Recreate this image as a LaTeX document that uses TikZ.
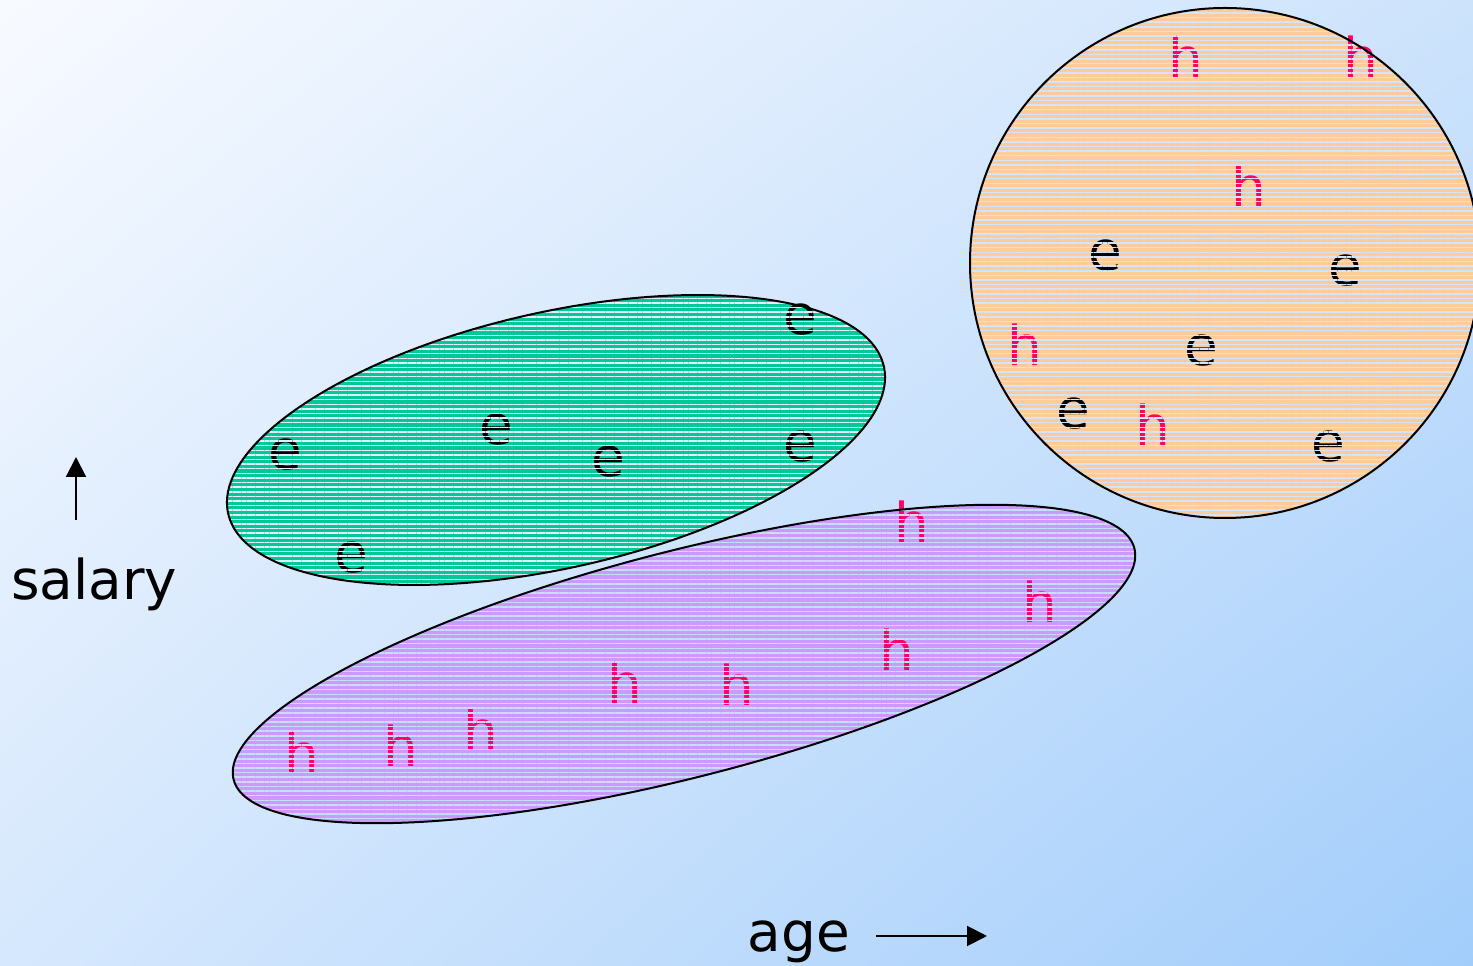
\documentclass[tikz,border=0pt]{standalone}
\usepackage{fontspec}
\setmainfont{DejaVu Sans}
\usetikzlibrary{arrows.meta,patterns.meta,shadings}
\definecolor{bgul}{HTML}{F8FAFF}
\definecolor{bgur}{HTML}{CDE3FC}
\definecolor{bgll}{HTML}{D6E8FD}
\definecolor{bglr}{HTML}{A2CDFB}
\definecolor{grfill}{HTML}{00C896}
\definecolor{pufill}{HTML}{CC99FF}
\definecolor{orfill}{HTML}{FFCC99}
\definecolor{grgap}{HTML}{E2EEFD}
\definecolor{pugap}{HTML}{C6DFFC}
\definecolor{orgap}{HTML}{D2E5FC}
\definecolor{hred}{HTML}{FF0066}
\newcommand{\ptfont}{\fontsize{15.6pt}{18pt}\selectfont}

\begin{document}
\begin{tikzpicture}[
  x=0.1mm, y=0.1mm,
  >={Triangle[length=2mm, width=2mm]},
  ltr-e/.style={inner sep=0pt, font=\ptfont, text=black},
  ltr-h/.style={inner sep=0pt, font=\ptfont, text=hred},
  axislabel/.style={inner sep=0pt, font=\ptfont, anchor=base},
  stripes/.style={pattern={Lines[distance=1.31pt, line width=0.42pt]}, pattern color=#1},
  rim/.style={draw=black, line width=0.2mm},
]
  \useasboundingbox (0,0) rectangle (1473,966);
  \clip (0,0) rectangle (1473,966);
  % Background
  \shade[upper left=bgul, upper right=bgur, lower left=bgll, lower right=bglr] (0,0) rectangle (1473,966);
  % Green cluster: e only
  \fill[grfill, rotate around={12.65:(556,526)}] (556,526) ellipse [x radius=336, y radius=128];
  \foreach \x/\y [count=\i] in {800/646, 496/536, 285/511, 608/504, 800/519, 351/408}
    \node[ltr-e] (g\i) at (\x,\y) {e};
  \path[stripes=grgap, rotate around={12.65:(556,526)}] (556,526) ellipse [x radius=336, y radius=128];
  \draw[rim, rotate around={12.65:(556,526)}] (556,526) ellipse [x radius=336, y radius=128];
  % Purple cluster: h only
  \fill[pufill, rotate around={14.4:(684,302)}] (684,302) ellipse [x radius=465, y radius=113];
  \foreach \x/\y [count=\i] in {912/444, 1040/364, 897/316, 625/283, 737/281, 481/236, 401/220, 302/213}
    \node[ltr-h] (p\i) at (\x,\y) {h};
  \path[stripes=pugap, rotate around={14.4:(684,302)}] (684,302) ellipse [x radius=465, y radius=113];
  \draw[rim, rotate around={14.4:(684,302)}] (684,302) ellipse [x radius=465, y radius=113];
  % Orange cluster: mixed
  \fill[orfill] (1225,703) circle [radius=255];
  \foreach \x/\y/\c [count=\i] in {1186/909/h, 1361/909/h, 1249/780/h, 1105/710/e, 1345/695/e,
      1025/621/h, 1201/615/e, 1073/552/e, 1153/541/h, 1328/519/e}
    \node[ltr-\c] (o\i) at (\x,\y) {\c};
  \path[stripes=orgap] (1225,703) circle [radius=255];
  \draw[rim] (1225,703) circle [radius=255];
  % Axes
  \node[axislabel] (salary) at (94,366) {salary};
  \coordinate (sal0) at (76,446);
  \coordinate (sal1) at (76,509);
  \draw[->, line width=0.2mm] (sal0) -- (sal1);
  \node[axislabel] (age) at (799,14) {age};
  \coordinate (age0) at (876,30);
  \coordinate (age1) at (987,30);
  \draw[->, line width=0.2mm] (age0) -- (age1);
\end{tikzpicture}
\end{document}
